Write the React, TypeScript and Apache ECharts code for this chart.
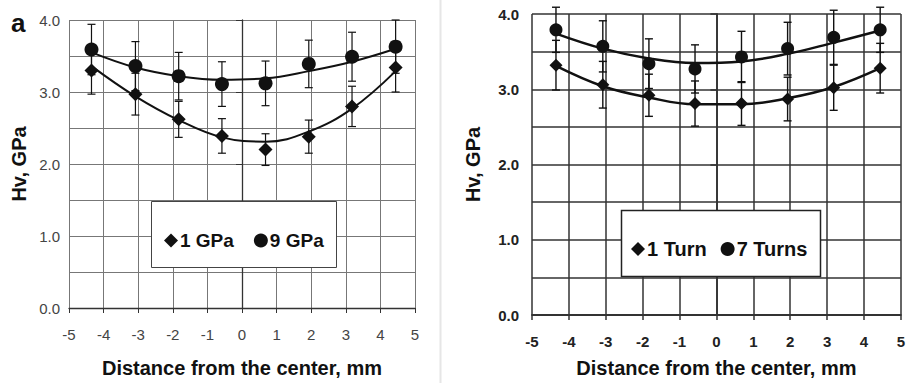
import React, { useEffect, useRef } from "react";
import * as echarts from "echarts";

// shared measurement positions (mm)
const xPositions = [-4.35, -3.08, -1.83, -0.58, 0.68, 1.93, 3.18, 4.44];

// left panel (a): pressure
const gpa1 = [3.30, 2.97, 2.62, 2.39, 2.20, 2.38, 2.80, 3.34];
const gpa1Err = [0.33, 0.29, 0.25, 0.24, 0.22, 0.23, 0.28, 0.34];
const gpa9 = [3.59, 3.36, 3.22, 3.11, 3.12, 3.39, 3.49, 3.63];
const gpa9Err = [0.35, 0.34, 0.33, 0.31, 0.31, 0.33, 0.34, 0.37];
const gpa1Fit = [3.36, 2.94, 2.61, 2.37, 2.31, 2.45, 2.77, 3.29];
const gpa9Fit = [3.55, 3.34, 3.22, 3.17, 3.19, 3.29, 3.42, 3.60];

// right panel: turns
const turn1 = [3.32, 3.06, 2.92, 2.81, 2.81, 2.87, 3.02, 3.28];
const turn1Err = [0.33, 0.31, 0.28, 0.30, 0.29, 0.29, 0.30, 0.33];
const turn7 = [3.79, 3.57, 3.34, 3.27, 3.43, 3.54, 3.69, 3.79];
const turn7Err = [0.30, 0.34, 0.33, 0.32, 0.34, 0.35, 0.36, 0.30];
const turn1Fit = [3.31, 3.04, 2.89, 2.80, 2.80, 2.88, 3.03, 3.28];
const turn7Fit = [3.74, 3.54, 3.41, 3.35, 3.37, 3.47, 3.62, 3.78];

const xTicks = { min: -5, max: 5, interval: 1 };
const yTicks = { min: 0, max: 4, interval: 1 };

const FONT = "Arial, 'Liberation Sans', Helvetica, sans-serif";

function pts(ys: number[]) {
  return xPositions.map((x, i) => [x, ys[i]]);
}
function errPts(ys: number[], es: number[]) {
  return xPositions.map((x, i) => [x, ys[i], es[i]]);
}

function errorSeries(name: string, idx: number, ys: number[], es: number[], w: number) {
  return {
    type: "custom",
    name: name + "-err",
    xAxisIndex: idx,
    yAxisIndex: idx,
    clip: false,
    z: 3,
    encode: { x: 0, y: 1 },
    data: errPts(ys, es),
    renderItem: (params: any, api: any) => {
      const x = api.value(0);
      const y = api.value(1);
      const e = api.value(2);
      const top = api.coord([x, y + e]);
      const bot = api.coord([x, y - e]);
      const cap = 4;
      const style = { stroke: "#111", lineWidth: w };
      return {
        type: "group",
        children: [
          { type: "line", shape: { x1: top[0], y1: top[1], x2: bot[0], y2: bot[1] }, style },
          { type: "line", shape: { x1: top[0] - cap, y1: top[1], x2: top[0] + cap, y2: top[1] }, style },
          { type: "line", shape: { x1: bot[0] - cap, y1: bot[1], x2: bot[0] + cap, y2: bot[1] }, style },
        ],
      };
    },
  };
}

function fitSeries(name: string, idx: number, ys: number[], w: number) {
  return {
    type: "line",
    name: name + "-fit",
    xAxisIndex: idx,
    yAxisIndex: idx,
    data: pts(ys),
    smooth: 0.4,
    showSymbol: false,
    symbol: "none",
    z: 2,
    lineStyle: { color: "#111", width: w },
  };
}

function markerSeries(name: string, idx: number, ys: number[], symbol: string, size: number) {
  return {
    type: "scatter",
    name,
    xAxisIndex: idx,
    yAxisIndex: idx,
    data: pts(ys),
    symbol,
    symbolSize: size,
    z: 4,
    itemStyle: { color: "#111", opacity: 1 },
  };
}

function xAxisCfg(idx: number, grid: string, width: number, labelColor: string, labelWeight: string, nameGap: number) {
  return {
    type: "value",
    gridIndex: idx,
    ...xTicks,
    axisLine: { show: true, onZero: false, lineStyle: { color: "#333", width: width + 0.3 } },
    axisTick: { show: true, length: 5, lineStyle: { color: "#333", width } },
    splitLine: { show: true, lineStyle: { color: grid, width } },
    axisLabel: { color: labelColor, fontSize: 15, fontWeight: labelWeight, fontFamily: FONT, margin: 19 },
    name: "Distance from the center, mm",
    nameLocation: "middle",
    nameGap,
    nameTextStyle: { color: "#111", fontSize: 20, fontWeight: "bold", fontFamily: FONT },
  };
}

function yAxisCfg(idx: number, grid: string, width: number, labelColor: string, labelWeight: string, margin: number, nameGap: number) {
  return {
    type: "value",
    gridIndex: idx,
    ...yTicks,
    axisLine: { show: true, lineStyle: { color: "#333", width: width + 0.3 } },
    axisTick: { show: true, length: 6, lineStyle: { color: "#333", width } },
    minorTick: { show: false, splitNumber: 2 },
    splitLine: { show: true, lineStyle: { color: grid, width } },
    minorSplitLine: { show: true, lineStyle: { color: grid, width } },
    axisLabel: {
      color: labelColor,
      fontSize: 15,
      fontWeight: labelWeight,
      fontFamily: FONT,
      margin,
      formatter: (v: number) => v.toFixed(1),
    },
    name: "Hv, GPa",
    nameLocation: "middle",
    nameGap,
    nameTextStyle: { color: "#111", fontSize: 20, fontWeight: "bold", fontFamily: FONT },
  };
}

export default function App() {
  const ref = useRef<HTMLDivElement>(null);
  useEffect(() => {
    if (!ref.current) return;
    const chart = echarts.init(ref.current, undefined, { renderer: "svg" });
    const option: any = {
      animation: false,
      backgroundColor: "#fff",
      grid: [
        { left: 69, top: 20, width: 346, height: 288 },
        { left: 532, top: 14, width: 374, height: 303 },
      ],
      xAxis: [
        xAxisCfg(0, "#777", 1, "#444", "normal", 50),
        xAxisCfg(1, "#333", 1.5, "#222", "bold", 43),
      ],
      yAxis: [
        yAxisCfg(0, "#777", 1, "#444", "normal", 9, 40),
        yAxisCfg(1, "#333", 1.5, "#222", "bold", 13, 49),
      ],
      legend: [
        {
          data: ["1 GPa", "9 GPa"],
          left: 159,
          top: 226,
          itemGap: 20,
          itemWidth: 14,
          itemHeight: 14,
          z: 10,
          textStyle: { color: "#111", fontSize: 19, fontWeight: "bold", fontFamily: FONT, padding: [0, 0, 0, -3] },
        },
        {
          data: ["1 Turn", "7 Turns"],
          left: 626,
          top: 234,
          itemGap: 14,
          itemWidth: 14,
          itemHeight: 14,
          z: 10,
          textStyle: { color: "#111", fontSize: 20, fontWeight: "bold", fontFamily: FONT, padding: [0, 0, 0, -3] },
        },
      ],
      graphic: [
        {
          type: "rect",
          z: 6,
          shape: { x: 151.5, y: 201.5, width: 185, height: 66 },
          style: { fill: "#fff", stroke: "#444", lineWidth: 1 },
        },
        {
          type: "rect",
          z: 6,
          shape: { x: 621.5, y: 210.5, width: 199, height: 66 },
          style: { fill: "#fff", stroke: "#222", lineWidth: 1.5 },
        },
        {
          type: "line",
          z: 1,
          shape: { x1: 440.5, y1: 0, x2: 440.5, y2: 383 },
          style: { stroke: "#e6e6e6", lineWidth: 2 },
        },
        {
          type: "text",
          z: 10,
          x: 11,
          y: 10,
          style: { text: "a", fill: "#111", font: `bold 26px ${FONT}` },
        },
      ],
      series: [
        fitSeries("1 GPa", 0, gpa1Fit, 2),
        fitSeries("9 GPa", 0, gpa9Fit, 2),
        errorSeries("1 GPa", 0, gpa1, gpa1Err, 1.2),
        errorSeries("9 GPa", 0, gpa9, gpa9Err, 1.2),
        markerSeries("1 GPa", 0, gpa1, "diamond", 14),
        markerSeries("9 GPa", 0, gpa9, "circle", 14),
        fitSeries("1 Turn", 1, turn1Fit, 2.5),
        fitSeries("7 Turns", 1, turn7Fit, 2.5),
        errorSeries("1 Turn", 1, turn1, turn1Err, 1.4),
        errorSeries("7 Turns", 1, turn7, turn7Err, 1.4),
        markerSeries("1 Turn", 1, turn1, "diamond", 13),
        markerSeries("7 Turns", 1, turn7, "circle", 13),
      ],
    };
    chart.setOption(option);
    return () => chart.dispose();
  }, []);
  return (
    <div
      ref={ref}
      style={{ position: "fixed", left: 0, top: 0, width: 908, height: 383 }}
    />
  );
}
